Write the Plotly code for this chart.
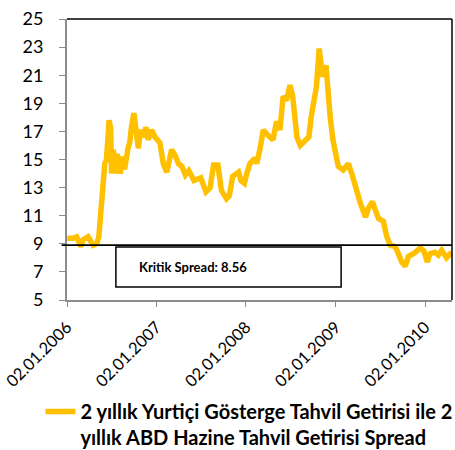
import plotly.graph_objects as go

# ---- data ----
dates = [
    "2006-01-03", "2006-01-27", "2006-02-10", "2006-02-28", "2006-03-09", "2006-03-29",
    "2006-04-19", "2006-05-03", "2006-05-12", "2006-05-23", "2006-05-29", "2006-06-05",
    "2006-06-12", "2006-06-23", "2006-06-29", "2006-07-03", "2006-07-10", "2006-07-17",
    "2006-07-26", "2006-08-07", "2006-08-18", "2006-08-25", "2006-09-08", "2006-09-15",
    "2006-09-22", "2006-10-02", "2006-10-10", "2006-10-20", "2006-10-30", "2006-11-09",
    "2006-11-20", "2006-11-29", "2006-12-13", "2006-12-27", "2007-01-16", "2007-01-30",
    "2007-02-13", "2007-03-05", "2007-03-19", "2007-04-02", "2007-04-16", "2007-04-30",
    "2007-05-14", "2007-06-04", "2007-07-02", "2007-07-23", "2007-08-09", "2007-08-23",
    "2007-09-10", "2007-09-24", "2007-10-15", "2007-10-26", "2007-11-09", "2007-12-03",
    "2007-12-13", "2007-12-27", "2008-01-04", "2008-01-18", "2008-02-08", "2008-02-15",
    "2008-02-28", "2008-03-13", "2008-04-02", "2008-04-22", "2008-05-06", "2008-05-20",
    "2008-06-02", "2008-06-16", "2008-06-30", "2008-07-11", "2008-07-21", "2008-07-28",
    "2008-08-11", "2008-09-01", "2008-09-15", "2008-09-24", "2008-10-06", "2008-10-16",
    "2008-10-27", "2008-11-10", "2008-11-24", "2008-12-03", "2008-12-11", "2008-12-22",
    "2009-01-02", "2009-01-13", "2009-02-02", "2009-02-23", "2009-03-09", "2009-03-23",
    "2009-04-13", "2009-05-04", "2009-05-15", "2009-06-01", "2009-06-12", "2009-06-26",
    "2009-07-16", "2009-07-30", "2009-08-13", "2009-09-02", "2009-09-15", "2009-09-29",
    "2009-10-13", "2009-10-26", "2009-11-16", "2009-12-14", "2009-12-28", "2010-01-11",
    "2010-01-22", "2010-02-12", "2010-02-25", "2010-03-11", "2010-03-31", "2010-04-21",
]
spread = [
    9.4, 9.4, 9.5, 8.8, 9.3, 9.5,
    8.9, 9.0, 9.5, 11.6, 13.7, 14.7,
    15.0, 17.8, 17.2, 14.0, 15.7, 14.0,
    15.4, 14.0, 15.2, 14.3, 15.8, 16.2,
    17.3, 18.3, 17.2, 15.8, 17.1, 16.6,
    17.3, 16.4, 17.1, 16.6, 16.2, 14.7,
    14.1, 15.7, 15.3, 14.7, 14.5, 13.9,
    14.2, 13.5, 13.7, 12.7, 13.0, 14.6,
    14.6, 12.8, 12.2, 12.4, 13.8, 14.1,
    13.5, 13.3, 13.9, 14.7, 15.1, 14.7,
    15.7, 17.1, 16.7, 16.4, 17.7, 17.1,
    19.5, 19.2, 20.3, 19.5, 17.8, 16.6,
    16.0, 16.4, 16.6, 18.0, 19.2, 20.2,
    22.9, 20.9, 21.7, 19.5, 18.0, 16.4,
    15.4, 14.5, 14.25, 14.7, 14.0, 13.1,
    11.9, 10.9, 11.5, 12.0, 11.4, 10.8,
    10.6, 9.5, 8.9, 8.8, 8.3, 7.7,
    7.4, 8.1, 8.3, 8.7, 8.5, 7.7,
    8.3, 8.4, 8.2, 8.55, 8.0, 8.4,
]
series_name = "2 yıllık Yurtiçi Gösterge Tahvil Getirisi ile 2<br>yıllık ABD Hazine Tahvil Getirisi Spread"
x_tick_dates = ["2006-01-02", "2007-01-02", "2008-01-02", "2009-01-02", "2010-01-02"]
x_tick_labels = ["02.01.2006", "02.01.2007", "02.01.2008", "02.01.2009", "02.01.2010"]
y_ticks = [5, 7, 9, 11, 13, 15, 17, 19, 21, 23, 25]
x_range = ["2006-01-02", "2010-04-22"]
y_range = [5, 25]
critical_level = 8.9
critical_label = "Kritik Spread: 8.56"

FONT = "Lato"
AXIS_GREY = "#8c8c8c"

fig = go.Figure()
fig.add_trace(go.Scatter(
    x=dates, y=spread, mode="lines", name=series_name,
    line=dict(color="#FFC000", width=5.5),
))

# plot-area border (top and right in black)
fig.add_shape(type="line", xref="paper", yref="paper", x0=0, x1=1, y0=1, y1=1,
              line=dict(color="black", width=1.5))
fig.add_shape(type="line", xref="paper", yref="paper", x0=1, x1=1, y0=0, y1=1,
              line=dict(color="black", width=1.5))
# critical spread line
fig.add_shape(type="line", xref="paper", yref="y", x0=-0.014, x1=1,
              y0=critical_level, y1=critical_level,
              line=dict(color="black", width=1.8))
# label box
fig.add_shape(type="rect", xref="paper", yref="paper", x0=0.127, x1=0.712, y0=0.046, y1=0.189,
              line=dict(color="black", width=1.5), fillcolor="white")
fig.add_annotation(text=critical_label, xref="paper", yref="paper", x=0.182, y=0.117,
                   xanchor="left", yanchor="middle", showarrow=False,
                   font=dict(family=FONT, size=13, color="black", weight="bold"))

fig.update_layout(
    width=455, height=450,
    margin=dict(l=67, r=3, t=19, b=150, autoexpand=False),
    paper_bgcolor="white", plot_bgcolor="white",
    font=dict(family=FONT, color="black"),
    showlegend=True,
    legend=dict(x=-0.069, y=-0.327, xanchor="left", yanchor="top", valign="top",
                font=dict(family=FONT, size=20, color="black", weight="bold"),
                bgcolor="rgba(0,0,0,0)", tracegroupgap=0),
    xaxis=dict(type="date", range=x_range, tickvals=x_tick_dates, ticktext=x_tick_labels,
               tickangle=-45, ticks="outside", ticklen=5, tickcolor=AXIS_GREY, tickwidth=1,
               showline=True, linecolor=AXIS_GREY, linewidth=2, showgrid=False, zeroline=False,
               automargin=False, ticklabelstandoff=4,
               tickfont=dict(family=FONT, size=16.5, color="black")),
    yaxis=dict(range=y_range, tickvals=y_ticks, ticks="outside", ticklen=6,
               tickcolor=AXIS_GREY, tickwidth=1, showline=True, linecolor=AXIS_GREY,
               linewidth=2, showgrid=False, zeroline=False, ticklabelstandoff=12,
               automargin=False,
               tickfont=dict(family=FONT, size=18, color="black")),
)

fig.write_html("out.html", config={"displayModeBar": False},
               post_script="document.body.style.margin='0';document.body.style.overflow='hidden';")
